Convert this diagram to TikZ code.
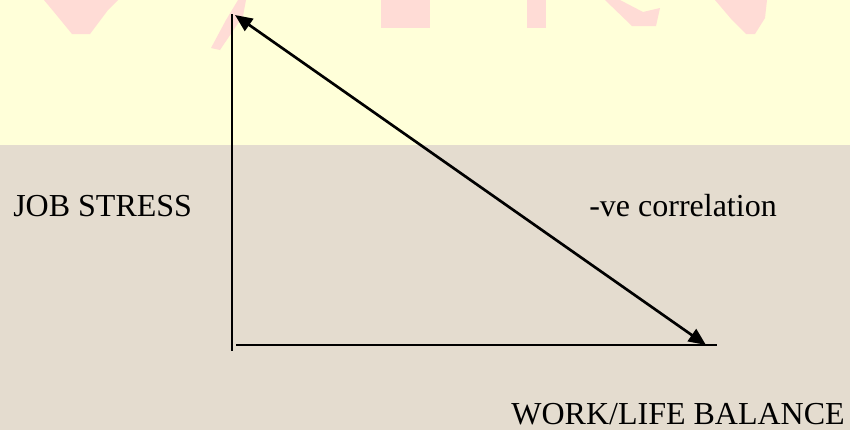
\documentclass[tikz,border=0pt]{standalone}
\usepackage{fontspec}
\setmainfont{Liberation Serif}
\newfontfamily\labelfont{Liberation Serif}
\usepackage{xcolor}
\usepackage{tikz}
\usetikzlibrary{positioning,arrows.meta}

\definecolor{bandyellow}{HTML}{FFFFD9}
\definecolor{paperbeige}{HTML}{E4DCCF}
\definecolor{blobpink}{HTML}{FFDCD6}

\begin{document}
\begin{tikzpicture}[
    x=0.75pt, y=-0.75pt,
    label/.style={inner sep=0pt, font=\labelfont\fontsize{24}{28}\selectfont, text=black},
    axis/.style={line width=2pt, black},
    corr/.style={{Triangle[length=13pt,width=11pt]}-{Triangle[length=13pt,width=11pt]}, line width=2pt, black},
    blob/.style={fill=blobpink, draw=none}
]
\useasboundingbox (0,0) rectangle (850,430);

% Background: yellow band and beige paper
\fill[paperbeige] (0,0) rectangle (850,430);
\fill[bandyellow] (0,0) rectangle (850,145);

% Faded heading shapes at the top
\fill[blob] (44,0) -- (118,0) -- (108,10) -- (90,34) -- (72,34) -- (54,12) -- cycle;
\fill[blob] (238,0) -- (246,0) -- (243,16) -- (220,50) -- (211,48) -- (226,20) -- cycle;
\fill[blob] (381,0) rectangle (430,28);
\fill[blob] (527,0) rectangle (546,28);
\fill[blob] (605,0) -- (620,0) -- (643,12) -- (660,8) -- (656,26) -- (632,26) -- cycle;
\fill[blob] (715,0) -- (767,0) -- (765,18) -- (755,34) -- (746,34) -- (732,20) -- cycle;

% Axes
\coordinate (ytop) at (232,14);
\coordinate (ybot) at (232,351);
\coordinate (xstart) at (236,345);
\coordinate (xend) at (717,345);
\draw[axis] (ytop) -- (ybot);
\draw[axis] (xstart) -- (xend);

% Correlation arrow
\coordinate (hi) at (235,15);
\coordinate (lo) at (706,345);
\draw[corr] (hi) -- (lo);

% Labels
\node[label, anchor=base west] (stress) at (13,216) {JOB STRESS};
\node[label, anchor=base west] (corrlbl) at (589,216) {-ve correlation};
\node[label, anchor=base east] (balance) at (845,424) {WORK/LIFE BALANCE};

\end{tikzpicture}
\end{document}
